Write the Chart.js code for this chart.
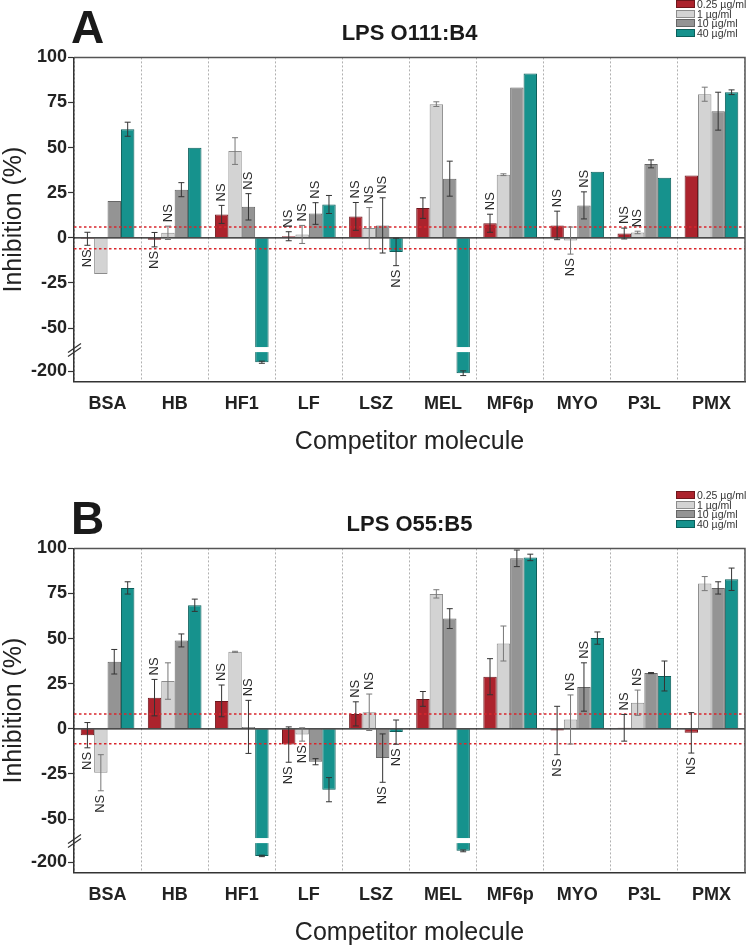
<!DOCTYPE html>
<html>
<head>
<meta charset="utf-8">
<script src="https://cdn.jsdelivr.net/npm/chart.js@4.4.1/dist/chart.umd.min.js"></script>
<style>
  html, body { margin: 0; padding: 0; background: #fff; overflow: hidden; }
  body { width: 748px; height: 945px; position: relative; font-family: "Liberation Sans", Arial, sans-serif; }
  .panel { position: absolute; left: 0; width: 748px; height: 491px; }
  .letter { position: absolute; left: 71px; top: 4px; font: bold 46px/46px "Liberation Sans", Arial, sans-serif; color: #1a1a1a; }
  .legend { position: absolute; left: 676px; top: 0; font-size: 10.5px; color: #333; }
  .legend .row { position: absolute; left: 0; height: 8px; line-height: 8px; white-space: nowrap; }
  .legend .box { display: inline-block; width: 17px; height: 6px; border: 1px solid; vertical-align: top; margin-right: 2px; }
</style>
</head>
<body>
<div class="panel" id="panelA" style="top:0">
  <canvas id="chartA" width="748" height="491"></canvas>
  <div class="letter">A</div>
  <div class="legend" id="legendA"></div>
</div>
<div class="panel" id="panelB" style="top:491px">
  <canvas id="chartB" width="748" height="491"></canvas>
  <div class="letter">B</div>
  <div class="legend" id="legendB"></div>
</div>
<script>
// categories and series
const categories = ["BSA", "HB", "HF1", "LF", "LSZ", "MEL", "MF6p", "MYO", "P3L", "PMX"];
const seriesLabels = ["0.25 µg/ml", "1 µg/ml", "10 µg/ml", "40 µg/ml"];
const yTicks = [100, 75, 50, 25, 0, -25, -50, -200];

// A: LPS O111:B4  (value, error, NS flag)
const o111_025 = [-0.5, -1, 13, 0.9, 11.9, 16.5, 8.1, 6.9, 2.4, 34.6];
const o111_025Err = [3.6, 4, 5, 2.5, 7.7, 5.7, 5, 7.9, 3, 0];
const o111_025NS = [1, 1, 1, 1, 1, 0, 1, 1, 1, 0];
const o111_1 = [-20, 2.8, 48.1, 1.9, 5.4, 74.1, 35, -1.5, 3, 79.6];
const o111_1Err = [0, 3.7, 7.4, 5, 11.4, 1.3, 0.5, 7.5, 0.7, 3.9];
const o111_1NS = [0, 1, 0, 1, 1, 0, 0, 1, 1, 0];
const o111_10 = [20.4, 26.7, 17.2, 13.5, 6.9, 32.8, 83.3, 18, 41, 70.2];
const o111_10Err = [0, 3.9, 7.3, 6, 15.3, 9.7, 0, 7.5, 2.2, 10.5];
const o111_10NS = [0, 0, 1, 1, 1, 0, 0, 1, 0, 0];
const o111_40 = [60.2, 50, -194.9, 18.5, -7.8, -201, 91.1, 36.7, 33.3, 80.7];
const o111_40Err = [3.9, 0, 0.6, 5, 7.6, 1.3, 0, 0, 0, 1.3];
const o111_40NS = [0, 0, 0, 0, 1, 0, 0, 0, 0, 0];
const o111Threshold = 6;

// B: LPS O55:B5
const o55_025 = [-3.5, 17.3, 15.5, -8.7, 8.3, 16.6, 28.9, -0.9, 0.6, -2.2];
const o55_025Err = [7, 10.1, 8.8, 9.8, 6.7, 4.1, 10, 13.4, 7.4, 11.2];
const o55_025NS = [1, 1, 1, 1, 1, 0, 0, 1, 1, 1];
const o55_1 = [-24.3, 26.5, 42.7, -3.1, 9.2, 74.8, 47.3, 5.2, 14.5, 80.5];
const o55_1Err = [10, 10.1, 0.3, 3.7, 10.1, 2.3, 9.7, 13.6, 7, 3.9];
const o55_1NS = [1, 0, 0, 1, 1, 0, 0, 1, 1, 0];
const o55_10 = [37.2, 49, 1.1, -18.2, -16.2, 61.1, 94.5, 23.2, 30.9, 78.1];
const o55_10Err = [6.8, 3.6, 14.7, 1.7, 13.4, 5.5, 4.6, 13.4, 0.3, 3.4];
const o55_10NS = [0, 0, 1, 0, 1, 0, 0, 1, 0, 0];
const o55_40 = [78.1, 68.5, -196.4, -33.7, -1.8, -193.6, 95, 50.3, 29.3, 82.9];
const o55_40Err = [3.4, 3.4, 0.4, 6.7, 6.7, 0.5, 1.8, 3.4, 8.3, 6.2];
const o55_40NS = [0, 0, 0, 0, 1, 0, 0, 0, 0, 0];
const o55Threshold = 8.3;

const fills = ["#ac232d", "#d3d3d3", "#949494", "#16928d"];
const borders = ["#6e161c", "#8c8c8c", "#666666", "#0b5f5b"];
const errColors = ["#333", "#777", "#333", "#333"];
const FONT = '"Liberation Sans", Arial, sans-serif';

// broken axis: values far below -50 are drawn in a short lower segment
const BREAK_AT = -100;
const LOWER_SHIFT = 126;
const GAP = [-60.5, -63.3];
function toAxis(v) { return v < BREAK_AT ? v + LOWER_SHIFT : v; }

const overlay = {
  id: "overlay",
  afterDatasetsDraw(chart, args, opts) {
    const ctx = chart.ctx, a = chart.chartArea, y = chart.scales.y;
    ctx.save();
    // white gap through broken bars
    const g1 = y.getPixelForValue(GAP[0]), g2 = y.getPixelForValue(GAP[1]);
    chart.data.datasets.forEach((ds, d) => {
      chart.getDatasetMeta(d).data.forEach((el, i) => {
        if (ds.raw[i] < BREAK_AT) {
          ctx.fillStyle = "#fff";
          ctx.fillRect(el.x - el.width / 2 - 1, g1, el.width + 2, g2 - g1);
        }
      });
    });
    // zero line
    const y0 = y.getPixelForValue(0);
    ctx.strokeStyle = "#111";
    ctx.lineWidth = 1.3;
    ctx.beginPath(); ctx.moveTo(a.left, y0); ctx.lineTo(a.right, y0); ctx.stroke();
    // significance thresholds
    ctx.strokeStyle = "#d9262c";
    ctx.lineWidth = 1.5;
    ctx.setLineDash([2.5, 2.5]);
    [opts.threshold, -opts.threshold].forEach(t => {
      const yy = y.getPixelForValue(t);
      ctx.beginPath(); ctx.moveTo(a.left, yy); ctx.lineTo(a.right, yy); ctx.stroke();
    });
    ctx.setLineDash([]);
    // error bars and NS labels
    chart.data.datasets.forEach((ds, d) => {
      chart.getDatasetMeta(d).data.forEach((el, i) => {
        const v = ds.raw[i], e = ds.errors[i];
        const yHi = y.getPixelForValue(toAxis(v + e));
        const yLo = y.getPixelForValue(toAxis(v - e));
        if (e > 0) {
          ctx.strokeStyle = errColors[d];
          ctx.lineWidth = 1;
          ctx.beginPath();
          ctx.moveTo(el.x, yHi); ctx.lineTo(el.x, yLo);
          ctx.moveTo(el.x - 3, yHi); ctx.lineTo(el.x + 3, yHi);
          ctx.moveTo(el.x - 3, yLo); ctx.lineTo(el.x + 3, yLo);
          ctx.stroke();
        }
        if (ds.ns[i]) {
          ctx.save();
          ctx.fillStyle = "#2a2a2a";
          ctx.font = "13px " + FONT;
          ctx.textBaseline = "middle";
          if (v >= 0) {
            ctx.translate(el.x, yHi - 4);
            ctx.rotate(-Math.PI / 2);
            ctx.textAlign = "left";
          } else {
            ctx.translate(el.x, yLo + 4);
            ctx.rotate(-Math.PI / 2);
            ctx.textAlign = "right";
          }
          ctx.fillText("NS", 0, 0);
          ctx.restore();
        }
      });
    });
    // frame top and right
    ctx.strokeStyle = "#555";
    ctx.lineWidth = 1.5;
    ctx.beginPath();
    ctx.moveTo(a.left, a.top); ctx.lineTo(a.right, a.top); ctx.lineTo(a.right, a.bottom);
    ctx.stroke();
    // axis break marks
    const gm = (g1 + g2) / 2;
    ctx.strokeStyle = "#333";
    ctx.lineWidth = 1.2;
    ctx.beginPath();
    ctx.moveTo(a.left - 6, gm + 3); ctx.lineTo(a.left + 7, gm - 6);
    ctx.moveTo(a.left - 6, gm + 7); ctx.lineTo(a.left + 7, gm - 2);
    ctx.stroke();
    ctx.restore();
  }
};

function buildLegend(id) {
  const el = document.getElementById(id);
  seriesLabels.forEach((lab, i) => {
    const row = document.createElement("div");
    row.className = "row";
    row.style.top = (i * 9.6) + "px";
    row.innerHTML = '<span class="box" style="background:' + fills[i] + ';border-color:' + borders[i] + '"></span>' + lab;
    el.appendChild(row);
  });
}

function makeChart(canvasId, title, values, errors, ns, threshold) {
  return new Chart(document.getElementById(canvasId), {
    type: "bar",
    data: {
      labels: categories,
      datasets: seriesLabels.map((lab, i) => ({
        label: lab,
        data: values[i].map(toAxis),
        raw: values[i],
        errors: errors[i],
        ns: ns[i],
        backgroundColor: fills[i],
        borderColor: borders[i],
        borderWidth: 1,
        categoryPercentage: 0.8,
        barPercentage: 1.0
      }))
    },
    options: {
      responsive: false,
      animation: false,
      layout: { padding: { left: 0, right: 3, top: 0, bottom: 0 } },
      plugins: {
        legend: { display: false },
        tooltip: { enabled: false },
        title: {
          display: true, text: title, fullSize: false, color: "#1a1a1a",
          font: { family: FONT, size: 22, weight: "bold", lineHeight: 1.2 },
          padding: { top: 21, bottom: 10 }
        },
        overlay: { threshold: threshold }
      },
      scales: {
        x: {
          grid: { offset: true, drawOnChartArea: true, drawTicks: false, color: "#b0b0b0", lineWidth: 1 },
          border: { display: true, color: "#333", width: 1.5, dash: [2, 2] },
          ticks: { font: { family: FONT, size: 18, weight: "bold" }, color: "#222", padding: 12, maxRotation: 0, autoSkip: false },
          title: { display: true, text: "Competitor molecule", color: "#222", font: { family: FONT, size: 25, lineHeight: 1.2 }, padding: { top: 0, bottom: 34 } },
          afterFit: s => { s.height = 109.3; }
        },
        y: {
          min: -79.7,
          max: 100,
          afterBuildTicks: s => { s.ticks = yTicks.map(v => ({ value: toAxis(v) })); },
          ticks: { callback: (v, i) => String(yTicks[i]), font: { family: FONT, size: 18, weight: "bold" }, color: "#222", padding: 1 },
          grid: { drawOnChartArea: false, drawTicks: true, tickLength: 6, tickColor: "#333", tickWidth: 1.2 },
          border: { display: true, color: "#333", width: 1.5 },
          title: { display: true, text: "Inhibition (%)", color: "#222", font: { family: FONT, size: 25, lineHeight: 1 }, padding: { top: 1.5, bottom: 0 } },
          afterFit: s => { s.width = 74; }
        }
      }
    },
    plugins: [overlay]
  });
}

buildLegend("legendA");
buildLegend("legendB");

makeChart("chartA", "LPS O111:B4",
  [o111_025, o111_1, o111_10, o111_40],
  [o111_025Err, o111_1Err, o111_10Err, o111_40Err],
  [o111_025NS, o111_1NS, o111_10NS, o111_40NS],
  o111Threshold);

makeChart("chartB", "LPS O55:B5",
  [o55_025, o55_1, o55_10, o55_40],
  [o55_025Err, o55_1Err, o55_10Err, o55_40Err],
  [o55_025NS, o55_1NS, o55_10NS, o55_40NS],
  o55Threshold);
</script>
</body>
</html>
